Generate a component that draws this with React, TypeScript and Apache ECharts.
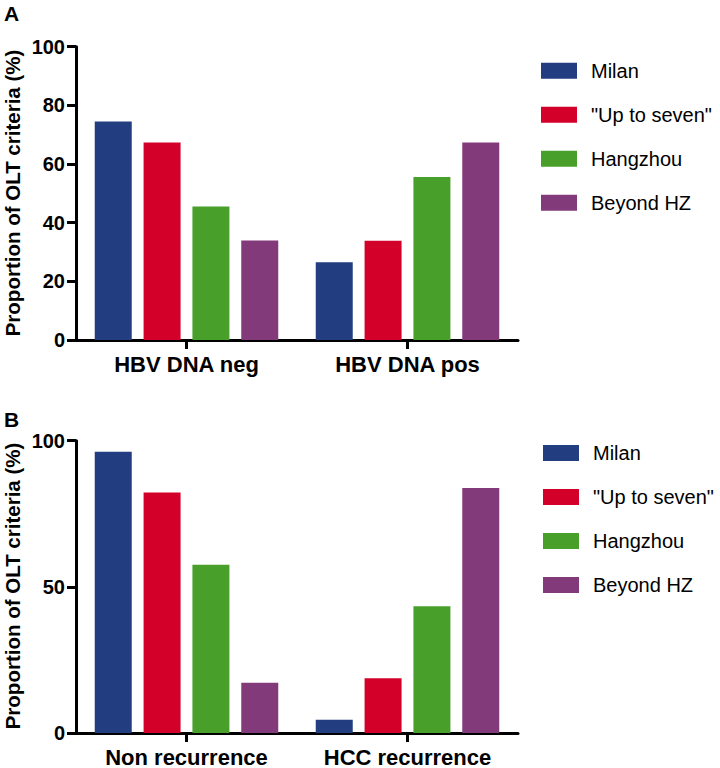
import React, { useEffect, useRef } from "react";
import * as echarts from "echarts";

const seriesNames = ["Milan", "\"Up to seven\"", "Hangzhou", "Beyond HZ"];
const colors = ["#223e80", "#d3002a", "#48a02a", "#823a7a"];

const catsA = ["HBV DNA neg", "HBV DNA pos"];
const milanA = [74.5, 26.5];
const upto7A = [67.3, 33.8];
const hzA = [45.5, 55.6];
const beyondA = [33.9, 67.3];

const catsB = ["Non recurrence", "HCC recurrence"];
const milanB = [96.2, 4.5];
const upto7B = [82.3, 18.7];
const hzB = [57.6, 43.4];
const beyondB = [17.2, 83.8];

const ticksA = { min: 0, max: 100, interval: 20 };
const ticksB = { min: 0, max: 100, interval: 50 };

const FONT = "Liberation Sans, Arial, Helvetica, sans-serif";

export default function App() {
  const ref = useRef<HTMLDivElement>(null);
  useEffect(() => {
    if (!ref.current) return;
    const chart = echarts.init(ref.current, null, { renderer: "svg" });
    const dataA = [milanA, upto7A, hzA, beyondA];
    const dataB = [milanB, upto7B, hzB, beyondB];

    const axisLine = { show: true, lineStyle: { color: "#000", width: 3 } };
    const xAxisCommon = (cats: string[], gi: number) => ({
      type: "category",
      gridIndex: gi,
      data: cats,
      axisLine,
      axisTick: { show: true, alignWithLabel: true, length: 9, lineStyle: { color: "#000", width: 3 } },
      axisLabel: { color: "#000", fontFamily: FONT, fontWeight: "bold", fontSize: 22, margin: 13 },
    });
    const yAxisCommon = (t: any, gi: number) => ({
      type: "value",
      gridIndex: gi,
      min: t.min,
      max: t.max,
      interval: t.interval,
      axisLine,
      axisTick: { show: true, length: 9, lineStyle: { color: "#000", width: 3 } },
      axisLabel: { color: "#000", fontFamily: FONT, fontWeight: "bold", fontSize: 20, margin: 11 },
      splitLine: { show: false },
    });

    const mkSeries = (data: number[][], gi: number) =>
      data.map((d, i) => ({
        type: "bar",
        name: seriesNames[i],
        xAxisIndex: gi,
        yAxisIndex: gi,
        data: d,
        barWidth: 37,
        barGap: "32%",
        itemStyle: { color: colors[i] },
      }));

    const legendCommon = (left: number, top: number) => ({
      orient: "vertical",
      left,
      top,
      padding: 0,
      data: seriesNames,
      icon: "rect",
      itemWidth: 36,
      itemHeight: 16,
      itemGap: 24,
      selectedMode: false,
      textStyle: { color: "#000", fontFamily: FONT, fontSize: 20, padding: [0, 0, 0, 9] },
    });

    chart.setOption({
      animation: false,
      backgroundColor: "#fff",
      grid: [
        { left: 76, top: 46.7, width: 442, height: 293.3 },
        { left: 76, top: 440.7, width: 442, height: 293.3 },
      ],
      xAxis: [xAxisCommon(catsA, 0), xAxisCommon(catsB, 1)],
      yAxis: [yAxisCommon(ticksA, 0), yAxisCommon(ticksB, 1)],
      legend: [legendCommon(541, 60.7), legendCommon(543, 443)],
      series: [...mkSeries(dataA, 0), ...mkSeries(dataB, 1)],
      graphic: [
        { type: "text", left: 4, top: 3, style: { text: "A", fontFamily: FONT, fontWeight: "bold", fontSize: 21, fill: "#000" } },
        { type: "text", left: 4, top: 409, style: { text: "B", fontFamily: FONT, fontWeight: "bold", fontSize: 21, fill: "#000" } },
        {
          type: "text", x: 12, y: 193, rotation: Math.PI / 2,
          style: { text: "Proportion of OLT criteria (%)", fontFamily: FONT, fontWeight: "bold", fontSize: 20.5, fill: "#000", align: "center", verticalAlign: "middle" },
        },
        {
          type: "text", x: 12, y: 586, rotation: Math.PI / 2,
          style: { text: "Proportion of OLT criteria (%)", fontFamily: FONT, fontWeight: "bold", fontSize: 20.5, fill: "#000", align: "center", verticalAlign: "middle" },
        },
      ],
    });
    return () => chart.dispose();
  }, []);
  return <div ref={ref} style={{ position: "fixed", left: 0, top: 0, width: 720, height: 768 }} />;
}
